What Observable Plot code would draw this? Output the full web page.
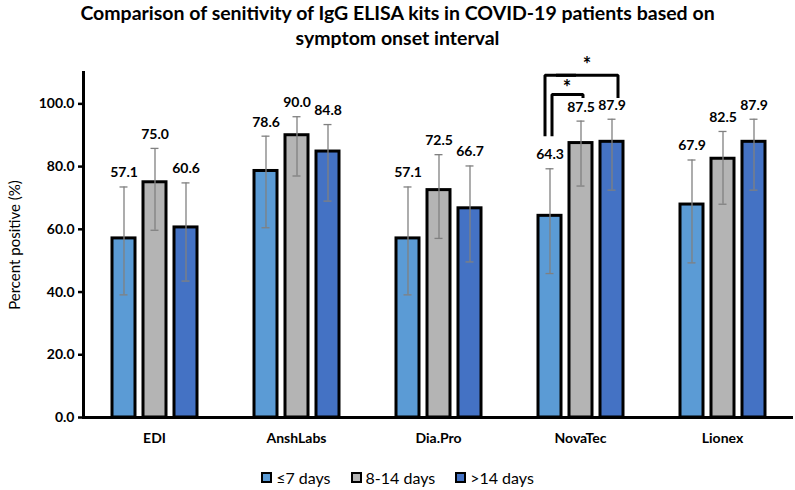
<!DOCTYPE html>
<html>
<head>
<meta charset="utf-8">
<script src="https://cdn.jsdelivr.net/npm/d3@7"></script>
<script src="https://cdn.jsdelivr.net/npm/@observablehq/plot@0.6"></script>
<style>
  body { margin: 0; background: #fff; font-family: Lato, "Open Sans", sans-serif; }
  #wrap { width: 795px; height: 490px; position: relative; overflow: hidden; }
  #title { height: 50px; text-align: center; font-weight: bold; font-size: 19.5px; line-height: 25px; color: #000; }
  #legend { display: flex; justify-content: center; align-items: center; gap: 20px; margin-top: 19px; height: 16px; font-size: 16px; color: #000; padding-left: 0px; }
  .item { display: flex; align-items: center; gap: 4px; }
  .sw { width: 7px; height: 7px; border: 2.5px solid #000; box-sizing: content-box; }
  svg g[aria-label="y-axis tick label"] text, svg g[aria-label="fx-axis tick label"] text { font-weight: bold; }
  svg g[aria-label="y-axis label"] text { font-weight: normal; font-size: 15px; }
</style>
</head>
<body>
<div id="wrap">
  <div id="title">Comparison of senitivity of IgG ELISA kits in COVID-19 patients based on<br>symptom onset interval</div>
  <div id="chart"></div>
  <div id="legend"></div>
</div>
<script>
// Categories and series
const kits = ["EDI", "AnshLabs", "Dia.Pro", "NovaTec", "Lionex"];
const groups = ["≤7 days", "8-14 days", ">14 days"];
const colors = ["#5B9BD5", "#B4B4B4", "#4472C4"];

const le7 = [57.1, 78.6, 57.1, 64.3, 67.9];
const d8to14 = [75.0, 90.0, 72.5, 87.5, 82.5];
const gt14 = [60.6, 84.8, 66.7, 87.9, 87.9];

// error bar bounds (lower / upper)
const le7Lo = [39.1, 60.5, 39.1, 45.9, 49.3];
const le7Hi = [73.5, 89.7, 73.5, 79.3, 82.1];
const d8Lo = [59.7, 77.0, 57.1, 73.8, 68.0];
const d8Hi = [85.8, 95.9, 83.8, 94.5, 91.2];
const gtLo = [43.5, 69.0, 49.6, 72.5, 72.5];
const gtHi = [74.8, 93.4, 80.2, 95.1, 95.1];

const yTicks = [0, 20, 40, 60, 80, 100];

// significance brackets (NovaTec)
const sigKit = "NovaTec";
const outerLegLow = 89.7, outerTop = 109.1, outerRightLow = 101.9;
const innerLegLow = 89.7, innerTop = 103.0, innerRightLow = 101.9;
const outerStarY = 113.6, innerStarY = 106.2;

// build table
const series = [
  {g: groups[0], v: le7, lo: le7Lo, hi: le7Hi},
  {g: groups[1], v: d8to14, lo: d8Lo, hi: d8Hi},
  {g: groups[2], v: gt14, lo: gtLo, hi: gtHi}
];
const rows = [];
kits.forEach((k, i) => series.forEach(s => rows.push({kit: k, group: s.g, value: s.v[i], lo: s.lo[i], hi: s.hi[i]})));

const outerA = [
  {kit: sigKit, group: groups[0], v: outerLegLow},
  {kit: sigKit, group: groups[0], v: outerTop},
  {kit: sigKit, group: groups[1], v: outerTop}
];
const outerB = [
  {kit: sigKit, group: groups[0], v: outerTop},
  {kit: sigKit, group: groups[2], v: outerTop},
  {kit: sigKit, group: groups[2], v: outerRightLow}
];
const inner = [
  {kit: sigKit, group: groups[0], v: innerLegLow},
  {kit: sigKit, group: groups[0], v: innerTop},
  {kit: sigKit, group: groups[1], v: innerTop},
  {kit: sigKit, group: groups[1], v: innerRightLow}
];
const stars = [
  {kit: sigKit, group: groups[1], v: outerStarY},
  {kit: sigKit, group: groups[1], v: innerStarY}
];

const lineStyle = {stroke: "#000", strokeWidth: 3, strokeLinejoin: "miter", strokeLinecap: "butt"};

const chart = Plot.plot({
  width: 795,
  height: 400,
  marginLeft: 82,
  marginRight: 2,
  marginTop: 22,
  marginBottom: 33,
  style: {fontFamily: "Lato, 'Open Sans', sans-serif", color: "#000", overflow: "visible"},
  fx: {domain: kits, padding: 0, label: null},
  x: {domain: groups, paddingInner: 0.26, paddingOuter: 0.92, axis: null},
  y: {domain: [0, 110]},
  color: {domain: groups, range: colors},
  marks: [
    Plot.barY(rows, {fx: "kit", x: "group", y: "value", fill: "group", stroke: "#000", strokeWidth: 3}),
    Plot.ruleX(rows, {fx: "kit", x: "group", y1: "lo", y2: "hi", stroke: "#808080", strokeWidth: 1.3}),
    Plot.tickY(rows, {fx: "kit", x: "group", y: "lo", stroke: "#808080", strokeWidth: 1.3, insetLeft: 7.5, insetRight: 7.5}),
    Plot.tickY(rows, {fx: "kit", x: "group", y: "hi", stroke: "#808080", strokeWidth: 1.3, insetLeft: 7.5, insetRight: 7.5}),
    Plot.text(rows, {fx: "kit", x: "group", y: "hi", text: d => d.value.toFixed(1), dy: -14, fontSize: 14, fontWeight: "bold", fill: "#000"}),
    Plot.line(outerA, {fx: "kit", x: "group", y: "v", dx: -5, ...lineStyle}),
    Plot.line(outerB, {fx: "kit", x: "group", y: "v", dx: 6, ...lineStyle}),
    Plot.line(inner, {fx: "kit", x: "group", y: "v", dx: 2, ...lineStyle}),
    Plot.text([stars[0]], {fx: "kit", x: "group", y: "v", text: () => "*", dx: 6, dy: 4, fontSize: 20, fontWeight: "bold", fill: "#000"}),
    Plot.text([stars[1]], {fx: "kit", x: "group", y: "v", text: () => "*", dx: -14, dy: 4, fontSize: 20, fontWeight: "bold", fill: "#000"}),
    Plot.ruleY([0], {stroke: "#000", strokeWidth: 3}),
    Plot.frame({anchor: "left", facetAnchor: "left", stroke: "#000", strokeWidth: 3}),
    Plot.axisY({ticks: yTicks, tickFormat: d3.format(".1f"), tickSize: 5, tickPadding: 4, strokeWidth: 2.5, stroke: "#000", fontSize: 14,
      label: "Percent positive (%)", labelAnchor: "center", labelOffset: 74, labelArrow: "none"}),
    Plot.axisFx({anchor: "bottom", tickSize: 0, tickPadding: 16, fontSize: 14, label: null})
  ]
});
document.getElementById("chart").appendChild(chart);

const legend = document.getElementById("legend");
groups.forEach((g, i) => {
  const item = document.createElement("div");
  item.className = "item";
  const sw = document.createElement("span");
  sw.className = "sw";
  sw.style.background = colors[i];
  const t = document.createElement("span");
  t.textContent = g;
  item.appendChild(sw);
  item.appendChild(t);
  legend.appendChild(item);
});
</script>
</body>
</html>
